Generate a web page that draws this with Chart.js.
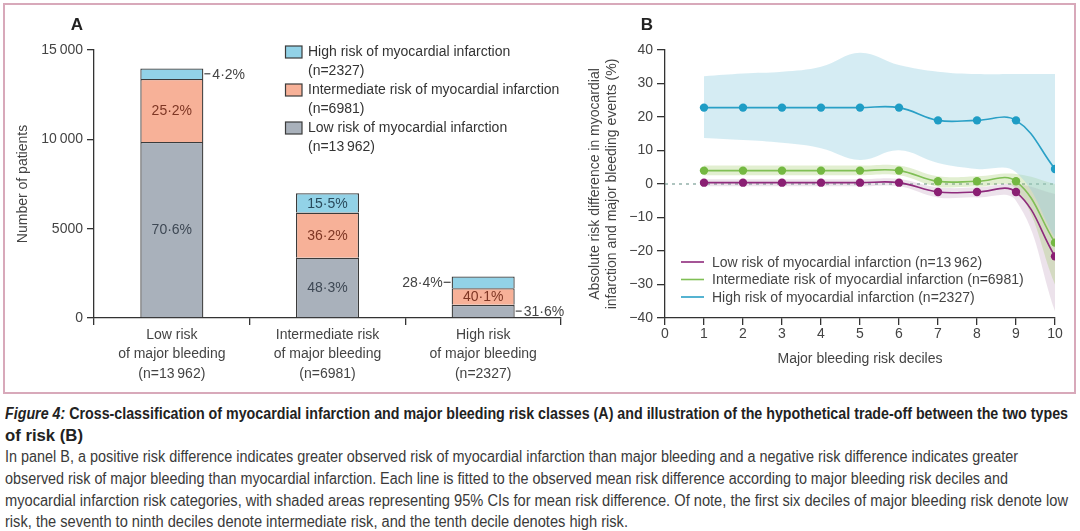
<!DOCTYPE html>
<html><head><meta charset="utf-8">
<script src="https://cdn.jsdelivr.net/npm/chart.js@4.4.0/dist/chart.umd.min.js"></script>
<style>
html,body{margin:0;padding:0;background:#fff;}
body{width:1080px;height:531px;position:relative;overflow:hidden;font-family:"Liberation Sans",Arial,sans-serif;}
#frame{position:absolute;left:3px;top:3px;width:1069px;height:387px;border:2px solid #d8a9ba;}
#wrapA{position:absolute;left:0;top:0;width:570px;height:395px;}
#wrapB{position:absolute;left:570px;top:0;width:510px;height:395px;}
.cap{position:absolute;left:5px;white-space:nowrap;font-family:"Liberation Sans Narrow","Liberation Sans",Arial,sans-serif;font-size:16px;line-height:22px;color:#3a3a3a;transform-origin:0 50%;}
.cap.b{font-weight:bold;color:#222;}
</style></head>
<body>
<div id="frame"></div>
<div id="wrapA"><canvas id="cA" width="570" height="395"></canvas></div>
<div id="wrapB"><canvas id="cB" width="510" height="395"></canvas></div>
<div class="cap b" style="top:403px" data-w="1063"><i>Figure 4:</i> Cross-classification of myocardial infarction and major bleeding risk classes (A) and illustration of the hypothetical trade-off between the two types</div>
<div class="cap b" style="top:425px" data-w="78">of risk (B)</div>
<div class="cap" style="top:446px" data-w="1013">In panel B, a positive risk difference indicates greater observed risk of myocardial infarction than major bleeding and a negative risk difference indicates greater</div>
<div class="cap" style="top:468px" data-w="1003">observed risk of major bleeding than myocardial infarction. Each line is fitted to the observed mean risk difference according to major bleeding risk deciles and</div>
<div class="cap" style="top:490px" data-w="1063">myocardial infarction risk categories, with shaded areas representing 95% CIs for mean risk difference. Of note, the first six deciles of major bleeding risk denote low</div>
<div class="cap" style="top:511px" data-w="623">risk, the seventh to ninth deciles denote intermediate risk, and the tenth decile denotes high risk.</div>
<script>
// ---------- Panel A data ----------
const bleedingCats = [
  ['Low risk', 'of major bleeding', '(n=13\u2009962)'],
  ['Intermediate risk', 'of major bleeding', '(n=6981)'],
  ['High risk', 'of major bleeding', '(n=2327)']
];
const miGroups = ['Low risk of myocardial infarction', 'Intermediate risk of myocardial infarction', 'High risk of myocardial infarction'];
const miN = ['13\u2009962', '6981', '2327'];
const lowMI = [9857, 3372, 735];
const interMI = [3518, 2527, 933];
const highMI = [587, 1082, 661];
const lowPct = [70.6, 48.3, 31.6];
const interPct = [25.2, 36.2, 40.1];
const highPct = [4.2, 15.5, 28.4];
const yTickLabelsA = ['0', '5000', '10\u2009000', '15\u2009000'];

// ---------- Panel B data ----------
const deciles = [1, 2, 3, 4, 5, 6, 7, 8, 9, 10];
const lowRD = [0.4, 0.4, 0.4, 0.4, 0.4, 0.4, -2.4, -2.4, -2.4, -21.6];
const interRD = [4.0, 4.0, 4.0, 4.0, 4.0, 4.0, 0.8, 0.8, 0.8, -17.5];
const highRD = [22.8, 22.8, 22.8, 22.8, 22.8, 22.8, 19.0, 19.0, 19.0, 4.5];
const highUpper = [32.2, 33.0, 33.5, 35.0, 39.2, 35.5, 33.5, 32.8, 32.8, 32.8];
const highLower = [13.7, 13.1, 12.3, 10.7, 7.2, 10.1, 6.3, 4.5, 3.5, -16];
const interUpper = [5.5, 5.5, 5.5, 5.5, 5.5, 5.5, 2.3, 2.3, 3.0, 0];
const interLower = [2.6, 2.6, 2.6, 2.6, 2.6, 2.6, -0.8, -0.8, -1.5, -30];
const lowUpper = [1.4, 1.4, 1.4, 1.4, 1.4, 1.5, -1.0, -1.0, 0, -3];
const lowLower = [-0.7, -0.7, -0.7, -0.7, -0.7, -0.7, -4.0, -4.0, -5.0, -38];

Chart.defaults.font.family = '"Liberation Sans", Arial, sans-serif';
Chart.defaults.font.size = 14;
Chart.defaults.color = '#444';

const colA = {low: '#a9b1bb', inter: '#f7b198', high: '#92d2e7'};
const txtA = {low: '#3e4854', inter: '#7e3624', high: '#2a4b5c'};
const fmtPct = v => v.toFixed(1).replace('.', '\u00b7') + '%';

const pluginA = {
  id: 'pA',
  afterDraw(chart) {
    const ctx = chart.ctx;
    ctx.save();
    ctx.fillStyle = '#222';
    ctx.font = 'bold 17px "Liberation Sans", Arial, sans-serif';
    ctx.textAlign = 'center'; ctx.textBaseline = 'middle';
    ctx.fillText('A', 77, 25);
    const order = [2, 1, 0];
    const rows = [52, 90, 128];
    ctx.font = '14px "Liberation Sans", Arial, sans-serif';
    ctx.textAlign = 'left';
    order.forEach((di, k) => {
      const ds = chart.data.datasets[di];
      const y = rows[k];
      ctx.fillStyle = ds.backgroundColor;
      ctx.fillRect(285.5, y - 6, 16.5, 12);
      ctx.strokeStyle = '#3b3b3b'; ctx.lineWidth = 1.2;
      ctx.strokeRect(285.5, y - 6, 16.5, 12);
      ctx.fillStyle = '#333';
      ctx.fillText(ds.label, 308, y);
      ctx.fillText('(n=' + miN[di] + ')', 308, y + 19.5);
    });
    const pcts = [lowPct, interPct, highPct];
    const tcols = [txtA.low, txtA.inter, txtA.high];
    chart.data.datasets.forEach((ds, di) => {
      const meta = chart.getDatasetMeta(di);
      meta.data.forEach((bar, i) => {
        const p = bar.getProps(['x', 'y', 'base', 'width'], true);
        const h = Math.abs(p.base - p.y);
        const cy = (p.base + p.y) / 2;
        const txt = fmtPct(pcts[di][i]);
        if (h >= 15) {
          ctx.fillStyle = tcols[di];
          ctx.textAlign = 'center';
          ctx.fillText(txt, p.x, cy + 1);
        } else {
          const left = (di === 2 && i === 2);
          ctx.strokeStyle = '#444'; ctx.lineWidth = 1.2;
          ctx.fillStyle = '#444';
          ctx.beginPath();
          if (left) {
            const x0 = p.x - p.width / 2;
            ctx.moveTo(x0 - 8, cy); ctx.lineTo(x0 - 1, cy); ctx.stroke();
            ctx.textAlign = 'right';
            ctx.fillText(txt, x0 - 9, cy + 1);
          } else {
            const x0 = p.x + p.width / 2;
            ctx.moveTo(x0 + 1, cy); ctx.lineTo(x0 + 7, cy); ctx.stroke();
            ctx.textAlign = 'left';
            ctx.fillText(txt, x0 + 9, cy + 1);
          }
        }
      });
    });
    ctx.restore();
  }
};

const barStyle = {borderColor: '#3b3b3b', borderWidth: 1.3, categoryPercentage: 1, barPercentage: 0.405};
new Chart(document.getElementById('cA'), {
  type: 'bar',
  data: {
    labels: bleedingCats,
    datasets: [
      Object.assign({label: miGroups[0], data: lowMI, backgroundColor: colA.low}, barStyle),
      Object.assign({label: miGroups[1], data: interMI, backgroundColor: colA.inter}, barStyle),
      Object.assign({label: miGroups[2], data: highMI, backgroundColor: colA.high}, barStyle)
    ]
  },
  options: {
    responsive: false, animation: false, events: [],
    layout: {padding: {left: 0, top: 50, right: 9, bottom: 0}},
    plugins: {legend: {display: false}, tooltip: {enabled: false}},
    scales: {
      x: {
        stacked: true,
        grid: {offset: true, drawOnChartArea: false, drawTicks: true, tickLength: 7, color: '#333', lineWidth: 1.3},
        border: {color: '#333', width: 1.3},
        ticks: {font: {size: 14, lineHeight: 1.4}, color: '#444', padding: 0, maxRotation: 0, autoSkip: false},
        afterFit(s) { s.height = 77; }
      },
      y: {
        stacked: true, min: 0, max: 15000,
        ticks: {stepSize: 5000, callback: (v, i) => yTickLabelsA[i], font: {size: 14}, color: '#444', padding: 4},
        grid: {drawOnChartArea: false, tickLength: 7, color: '#333', lineWidth: 1.3},
        border: {color: '#333', width: 1.3},
        title: {display: true, text: 'Number of patients', font: {size: 14, lineHeight: 1.2}, color: '#444', padding: {top: 14.6, bottom: 0}},
        afterFit(s) { s.width = 94; }
      }
    }
  },
  plugins: [pluginA]
});

// ---------- Panel B ----------
const colB = {low: '#8a1f73', inter: '#74b842', high: '#1f9dc5'};
const lineB = {low: '#8e2a7c', inter: '#80bf55', high: '#2aa0c6'};
const pts = arr => deciles.map((d, i) => ({x: d, y: arr[i]}));
const mkLine = (label, arr, k) => ({
  label, data: pts(arr), borderColor: lineB[k], backgroundColor: colB[k], borderWidth: 1.6,
  pointRadius: 4.2, pointBackgroundColor: colB[k], pointBorderWidth: 0, tension: 0.4, fill: false
});
const mkBand = (arr, color, fill) => ({
  label: '', data: pts(arr), borderColor: 'transparent', borderWidth: 0, pointRadius: 0,
  backgroundColor: color, tension: 0.4, fill: fill
});

const pluginB = {
  id: 'pB',
  beforeDatasetsDraw(chart) {
    const ctx = chart.ctx, xs = chart.scales.x, ys = chart.scales.y;
    ctx.save();
    ctx.strokeStyle = '#5f8a80'; ctx.lineWidth = 1.2; ctx.setLineDash([3, 4]);
    ctx.beginPath();
    ctx.moveTo(xs.getPixelForValue(0), ys.getPixelForValue(0));
    ctx.lineTo(xs.getPixelForValue(10), ys.getPixelForValue(0));
    ctx.stroke();
    ctx.restore();
  },
  afterDraw(chart) {
    const ctx = chart.ctx;
    ctx.save();
    ctx.fillStyle = '#222';
    ctx.font = 'bold 17px "Liberation Sans", Arial, sans-serif';
    ctx.textAlign = 'center'; ctx.textBaseline = 'middle';
    ctx.fillText('B', 77, 25);
    ctx.font = '14px "Liberation Sans", Arial, sans-serif';
    ctx.textAlign = 'left';
    const rows = [262, 279.5, 297];
    [0, 1, 2].forEach((di, k) => {
      const ds = chart.data.datasets[di];
      ctx.strokeStyle = ds.borderColor; ctx.lineWidth = 1.6;
      ctx.beginPath(); ctx.moveTo(111, rows[k]); ctx.lineTo(134, rows[k]); ctx.stroke();
      ctx.fillStyle = '#444';
      ctx.fillText(ds.label, 142, rows[k] + 1);
    });
    ctx.restore();
  }
};

new Chart(document.getElementById('cB'), {
  type: 'line',
  data: {
    datasets: [
      mkLine(miGroups[0] + ' (n=' + miN[0] + ')', lowRD, 'low'),
      mkLine(miGroups[1] + ' (n=' + miN[1] + ')', interRD, 'inter'),
      mkLine(miGroups[2] + ' (n=' + miN[2] + ')', highRD, 'high'),
      mkBand(highUpper, 'rgba(150,207,225,0.4)', '+1'),
      mkBand(highLower, 'transparent', false),
      mkBand(interUpper, 'rgba(150,196,90,0.28)', '+1'),
      mkBand(interLower, 'transparent', false),
      mkBand(lowUpper, 'rgba(175,135,170,0.24)', '+1'),
      mkBand(lowLower, 'transparent', false)
    ]
  },
  options: {
    responsive: false, animation: false, events: [],
    layout: {padding: {left: 0, top: 50, right: 25, bottom: 0}},
    plugins: {legend: {display: false}, tooltip: {enabled: false}},
    scales: {
      x: {
        type: 'linear', min: 0, max: 10,
        ticks: {stepSize: 1, font: {size: 14}, color: '#444', padding: 1},
        grid: {drawOnChartArea: false, tickLength: 7, color: '#333', lineWidth: 1.3},
        border: {color: '#333', width: 1.3},
        title: {display: true, text: 'Major bleeding risk deciles', font: {size: 14, lineHeight: 1.2}, color: '#444', padding: {top: 0, bottom: 27.6}},
        afterFit(s) { s.height = 77; }
      },
      y: {
        min: -40, max: 40,
        ticks: {stepSize: 10, callback: v => v < 0 ? '\u2212' + (-v) : String(v), font: {size: 14}, color: '#444', padding: 4},
        grid: {drawOnChartArea: false, tickLength: 8, color: '#333', lineWidth: 1.3},
        border: {color: '#333', width: 1.3},
        title: {display: true, text: ['Absolute risk difference in myocardial', 'infarction and major bleeding events (%)'], font: {size: 14, lineHeight: 1.214}, color: '#444', padding: {top: 16.6, bottom: 0}},
        afterFit(s) { s.width = 95; }
      }
    }
  },
  plugins: [pluginB]
});

document.querySelectorAll('.cap').forEach(el => {
  const w = el.getBoundingClientRect().width;
  const t = +el.dataset.w;
  if (w > 0) el.style.transform = 'scaleX(' + (t / w) + ')';
});
</script>
</body></html>
